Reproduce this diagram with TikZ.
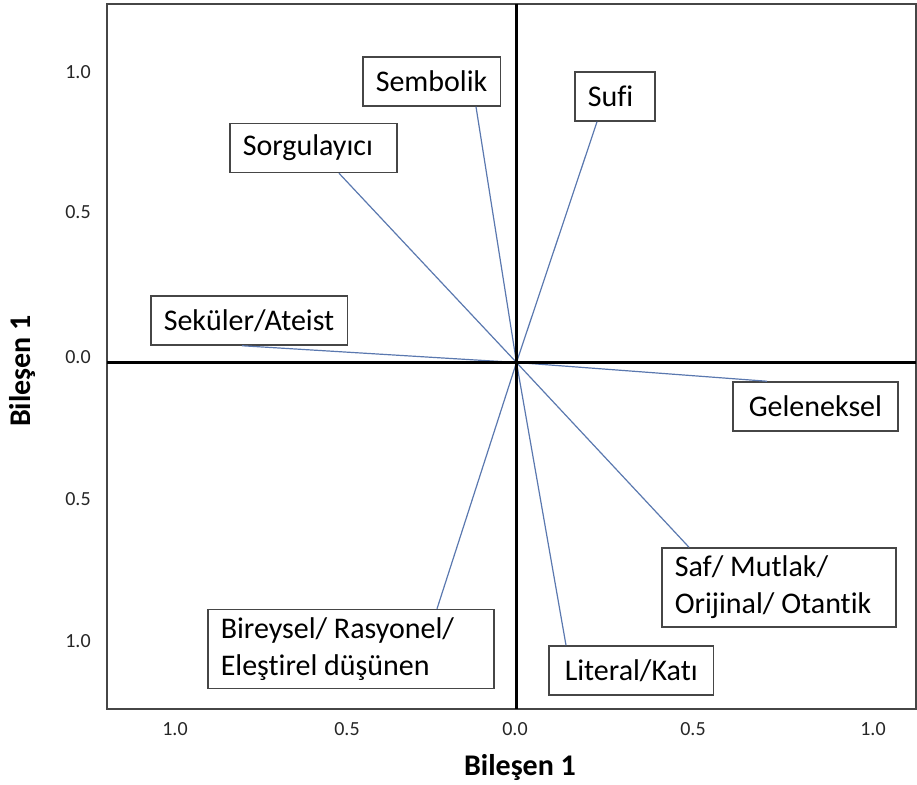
\documentclass[tikz,border=0pt]{standalone}
\usepackage{fontspec}
\setmainfont{Carlito}[Ligatures={NoCommon,NoRare,NoContextual}]
\definecolor{spoke}{RGB}{90,120,175}
\definecolor{framegray}{RGB}{70,70,70}

\begin{document}
\begin{tikzpicture}[x=0.5pt, y=-0.5pt,
        lbl/.style={draw=framegray, line width=0.75pt, anchor=west, align=flush left,
            inner xsep=6.5pt, inner ysep=4pt, minimum height=24.5pt,
            font=\fontsize{15}{18.5}\selectfont},
        ticklbl/.style={font=\fontsize{10}{12}\selectfont, text=black!85},
        axtitle/.style={font=\fontsize{15}{18}\selectfont\bfseries}]
    \useasboundingbox (0,0) rectangle (917,785);

        % frame
        \draw 
            [framegray, line width=0.8pt] (107,4) rectangle (916,709);

        % labels
        \node [lbl] (sembolik) at (362,81.5) {Sembolik};
        \node [lbl, text width=27pt] (sufi) at (574,96.5) {Sufi};
        \node [lbl, text width=70.5pt] (sorgu) at (229,148) {Sorgulayıcı};
        \node [lbl] (sekuler) at (150,320.5) {Seküler/Ateist};
        \node [lbl, inner xsep=8pt] (gelenek) at (732,406.5) {Geleneksel};
        \node [lbl, text width=104pt] (saf) at (661,587.5) {Saf/ Mutlak/\\Orijinal/ Otantik};
        \node [lbl, inner xsep=8pt] (literal) at (548,670.5) {Literal/Katı};
        \node [lbl, text width=130pt] (bireysel) at (207,649) {Bireysel/ Rasyonel/\\Eleştirel düşünen};

        % spokes
        \coordinate (o) at (516.5,362.5);
        \draw 
            [spoke, line width=0.6pt] (o) -- ([xshift=57pt]sembolik.south west);
        \draw 
            [spoke, line width=0.6pt] (o) -- ([xshift=11.5pt]sufi.south west);
        \draw 
            [spoke, line width=0.6pt] (o) -- ([xshift=55pt]sorgu.south west);
        \draw 
            [spoke, line width=0.6pt] (o) -- ([xshift=46pt]sekuler.south west);
        \draw 
            [spoke, line width=0.6pt] (o) -- ([xshift=17.5pt]gelenek.north west);
        \draw 
            [spoke, line width=0.6pt] (o) -- ([xshift=14pt]saf.north west);
        \draw 
            [spoke, line width=0.6pt] (o) -- ([xshift=9pt]literal.north west);
        \draw 
            [spoke, line width=0.6pt] (o) -- ([xshift=115pt]bireysel.north west);

        % axes
        \coordinate (ytop) at (516.5,4);
        \coordinate (ybot) at (516.5,709);
        \coordinate (xleft) at (107,362.5);
        \coordinate (xright) at (916,362.5);
        \draw 
            [black, line width=1.2pt] (ytop) -- (ybot);
        \draw 
            [black, line width=1.2pt] (xleft) -- (xright);

        % tick labels
        \foreach \y/\t in {72/1.0, 212/0.5, 357/0.0, 499/0.5, 641/1.0}
            \node [ticklbl] at (78,\y) {\t};
        \foreach \x/\t in {175/1.0, 347/0.5, 515/0.0, 693/0.5, 873/1.0}
            \node [ticklbl] at (\x,729) {\t};

        % axis titles
        \node [axtitle] (xtitle) at (520,767) {Bileşen 1};
        \node [axtitle, rotate=90] (ytitle) at (22,371) {Bileşen 1};
    \end{tikzpicture}
\end{document}
